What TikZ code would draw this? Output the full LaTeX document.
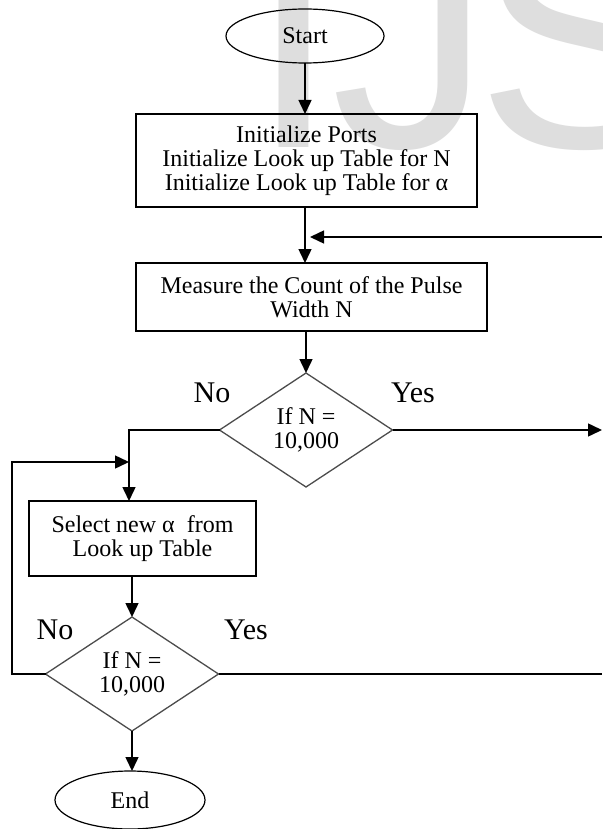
\documentclass[tikz,border=0pt]{standalone}
\usepackage{fontspec}
\setmainfont{Liberation Serif}
\newfontfamily\wmfont{Liberation Sans}
\usetikzlibrary{shapes.geometric,arrows.meta,calc}
\begin{document}
\begin{tikzpicture}[x=1pt,y=-1pt,
  base/.style={font=\fontsize{24}{24}\selectfont, inner sep=0pt, outer sep=0pt, align=center, text=black},
  term/.style={base, ellipse, draw, line width=1.2pt, minimum width=158pt, minimum height=54pt},
  proc/.style={base, rectangle, draw, line width=1.5pt},
  dec/.style={base, diamond, draw=black!70, line width=1.3pt, minimum width=173pt, minimum height=114pt},
  lab/.style={font=\fontsize{30}{30}\selectfont, inner sep=0pt},
  flow/.style={line width=1.5pt, -{Triangle[length=14pt,width=13pt]}},
  plain/.style={line width=1.5pt},
  wm/.style={font=\wmfont\fontsize{320}{320}\selectfont, text=black!13, inner sep=0pt, anchor=base west},
]
\fill[white] (0,0) rectangle (602,829);
\useasboundingbox (0,0) rectangle (602,829);
\begin{scope}
\clip (0,0) rectangle (602,829);
\node[wm] (wmI) at (249,148) {I};
\node[wm] (wmJ) at (331,148) {J};
\node[wm] (wmS) at (476,148) {S};
\end{scope}

\node[term] (start) at (305,36) {Start};
\node[proc, minimum width=341pt, minimum height=93pt] (init) at (306.5,160.5)
  {Initialize Ports\\Initialize Look up Table for N\\Initialize Look up Table for α};
\node[proc, minimum width=351pt, minimum height=68pt] (meas) at (311.5,297)
  {Measure the Count of the Pulse\\Width N};
\node[dec] (d1) at (306,430) {If N =\\10,000};
\node[proc, minimum width=227pt, minimum height=75pt] (sel) at (142.5,538.5)
  {Select new α~ from\\Look up Table};
\node[dec] (d2) at (132,674) {If N =\\10,000};
\node[term, minimum width=150pt, minimum height=58pt] (stop) at (130,800) {End};

\node[lab] (no1) at (212,393) {No};
\node[lab] (yes1) at (413,393) {Yes};
\node[lab] (no2) at (55,630) {No};
\node[lab] (yes2) at (246,630) {Yes};

\coordinate (fbR) at (602,237);
\coordinate (fbEnd) at (310,237);
\coordinate (yesR1) at (602,430);
\coordinate (yesR2) at (602,674);
\coordinate (j1) at (129,462);
\coordinate (loopL) at (12,674);

\draw[flow] (start.south) -- (start.south |- init.north);
\draw[flow] (start.south |- init.south) -- (start.south |- meas.north);
\draw[flow] (fbR) -- (fbEnd);
\draw[flow] (d1.north |- meas.south) -- (d1.north);
\draw[flow] (d1.east) -- (yesR1);
\draw[flow] (d1.west) -| (j1 |- sel.north);
\draw[flow] (d2.west) -- (loopL) |- (j1);
\draw[flow] (d2.north |- sel.south) -- (d2.north);
\draw[plain] (d2.east) -- (yesR2);
\draw[flow] (d2.south) -- (d2.south |- stop.north);
\end{tikzpicture}
\end{document}
